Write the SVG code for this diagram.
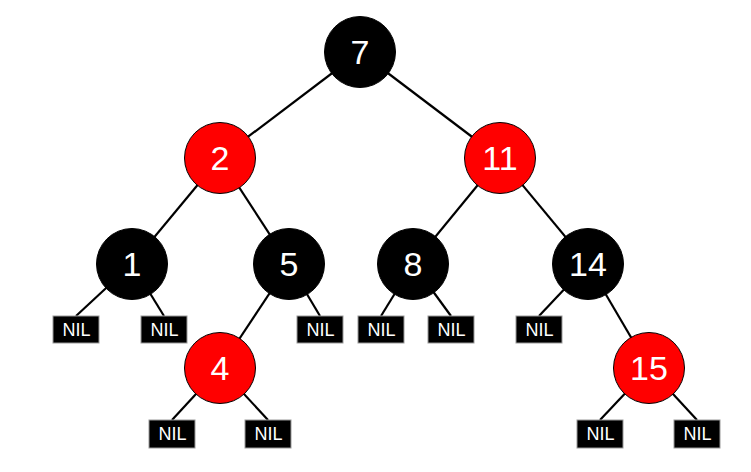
<svg xmlns="http://www.w3.org/2000/svg" width="751" height="472" viewBox="0 0 751 472">
<style>
.e{stroke:#000;stroke-width:2.2;fill:none}
.b{fill:#000;stroke:#000;stroke-width:1}
.r{fill:#ff0000;stroke:#000;stroke-width:1}
.t{fill:#fff;font-family:"Liberation Sans",Arial,sans-serif;font-size:34px;text-anchor:middle;dominant-baseline:central}
.nb{fill:#000;stroke:#999;stroke-width:1}
.nt{fill:#fff;font-family:"Liberation Sans",Arial,sans-serif;font-size:18px;text-anchor:middle;dominant-baseline:central}
</style>
<rect width="751" height="472" fill="#fff"/>
<g id="connectors">
<line class="e" x1="360" y1="52" x2="220" y2="158"/>
<line class="e" x1="360" y1="52" x2="500" y2="158"/>
<line class="e" x1="220" y1="158" x2="132" y2="264"/>
<line class="e" x1="220" y1="158" x2="289" y2="264"/>
<line class="e" x1="500" y1="158" x2="413" y2="264"/>
<line class="e" x1="500" y1="158" x2="588" y2="264"/>
<line class="e" x1="132" y1="264" x2="76" y2="316"/>
<line class="e" x1="132" y1="264" x2="164" y2="316"/>
<line class="e" x1="289" y1="264" x2="220" y2="368"/>
<line class="e" x1="289" y1="264" x2="320" y2="316"/>
<line class="e" x1="413" y1="264" x2="381" y2="316"/>
<line class="e" x1="413" y1="264" x2="451" y2="316"/>
<line class="e" x1="588" y1="264" x2="539" y2="316"/>
<line class="e" x1="588" y1="264" x2="649" y2="368"/>
<line class="e" x1="220" y1="368" x2="172" y2="420"/>
<line class="e" x1="220" y1="368" x2="268" y2="420"/>
<line class="e" x1="649" y1="368" x2="600" y2="420"/>
<line class="e" x1="649" y1="368" x2="697" y2="420"/>
</g>
<g id="n7"><circle class="b" cx="360" cy="52" r="35.5"/><text class="t" x="360" y="52">7</text></g>
<g id="n2"><circle class="r" cx="220" cy="158" r="35.5"/><text class="t" x="220" y="158">2</text></g>
<g id="n11"><circle class="r" cx="500" cy="158" r="35.5"/><text class="t" x="500" y="158">11</text></g>
<g id="n1"><circle class="b" cx="132" cy="264" r="35.5"/><text class="t" x="132" y="264">1</text></g>
<g id="n5"><circle class="b" cx="289" cy="264" r="35.5"/><text class="t" x="289" y="264">5</text></g>
<g id="n8"><circle class="b" cx="413" cy="264" r="35.5"/><text class="t" x="413" y="264">8</text></g>
<g id="n14"><circle class="b" cx="588" cy="264" r="35.5"/><text class="t" x="588" y="264">14</text></g>
<g id="n4"><circle class="r" cx="220" cy="368" r="35.5"/><text class="t" x="220" y="368">4</text></g>
<g id="n15"><circle class="r" cx="649" cy="368" r="35.5"/><text class="t" x="649" y="368">15</text></g>
<g id="nil1"><rect class="nb" x="53" y="316" width="46" height="27"/><text class="nt" x="76.5" y="329.5">NIL</text></g>
<g id="nil2"><rect class="nb" x="141" y="316" width="46" height="27"/><text class="nt" x="164.5" y="329.5">NIL</text></g>
<g id="nil3"><rect class="nb" x="297" y="316" width="46" height="27"/><text class="nt" x="320.5" y="329.5">NIL</text></g>
<g id="nil4"><rect class="nb" x="358" y="316" width="46" height="27"/><text class="nt" x="381.5" y="329.5">NIL</text></g>
<g id="nil5"><rect class="nb" x="428" y="316" width="46" height="27"/><text class="nt" x="451.5" y="329.5">NIL</text></g>
<g id="nil6"><rect class="nb" x="516" y="316" width="46" height="27"/><text class="nt" x="539.5" y="329.5">NIL</text></g>
<g id="nil7"><rect class="nb" x="149" y="420" width="46" height="28"/><text class="nt" x="172.5" y="434">NIL</text></g>
<g id="nil8"><rect class="nb" x="245" y="420" width="46" height="28"/><text class="nt" x="268.5" y="434">NIL</text></g>
<g id="nil9"><rect class="nb" x="577" y="420" width="46" height="28"/><text class="nt" x="600.5" y="434">NIL</text></g>
<g id="nil10"><rect class="nb" x="674" y="420" width="46" height="28"/><text class="nt" x="697.5" y="434">NIL</text></g>
</svg>
